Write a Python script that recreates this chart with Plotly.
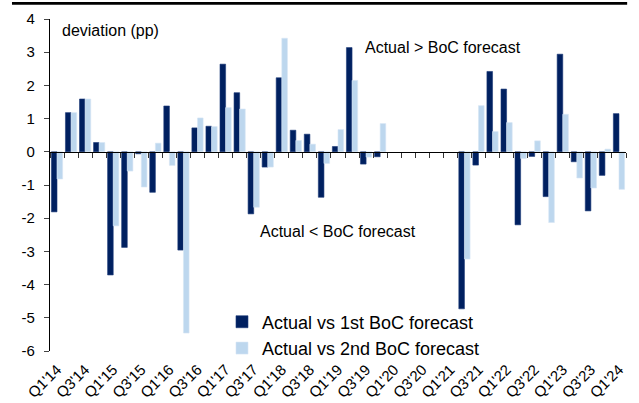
import plotly.graph_objects as go

quarters = ["Q1'14", "Q2'14", "Q3'14", "Q4'14", "Q1'15", "Q2'15", "Q3'15", "Q4'15",
            "Q1'16", "Q2'16", "Q3'16", "Q4'16", "Q1'17", "Q2'17", "Q3'17", "Q4'17",
            "Q1'18", "Q2'18", "Q3'18", "Q4'18", "Q1'19", "Q2'19", "Q3'19", "Q4'19",
            "Q1'20", "Q2'20", "Q3'20", "Q4'20", "Q1'21", "Q2'21", "Q3'21", "Q4'21",
            "Q1'22", "Q2'22", "Q3'22", "Q4'22", "Q1'23", "Q2'23", "Q3'23", "Q4'23",
            "Q1'24"]

vs_1st = [-1.81, 1.18, 1.59, 0.28, -3.71, -2.88, -0.06, -1.22,
          1.38, -2.96, 0.72, 0.77, 2.64, 1.78, -1.87, -0.46,
          2.23, 0.65, 0.53, -1.37, 0.16, 3.14, -0.37, -0.15,
          None, None, None, None, None, -4.73, -0.40, 2.42,
          1.89, -2.20, -0.14, -1.35, 2.94, -0.30, -1.78, -0.71,
          1.15]

vs_2nd = [-0.82, 1.18, 1.59, 0.28, -2.23, -0.58, -1.06, 0.26,
          -0.41, -5.46, 1.02, 0.76, 1.33, 1.29, -1.67, -0.46,
          3.42, 0.34, 0.23, -0.35, 0.67, 2.15, -0.16, 0.85,
          None, None, None, None, None, -3.23, 1.39, 0.61,
          0.88, -0.20, 0.33, -2.13, 1.13, -0.79, -1.09, 0.08,
          -1.13]

tick_labels = quarters[::2]
y_ticks = [-6, -5, -4, -3, -2, -1, 0, 1, 2, 3, 4]
y_tick_text = ["-6", "-5", "-4", "-3", "-2", "-1", "0", "1", "2", "3", "4"]

DARK = "#002060"
LIGHT = "#BDD7EE"
FONT = "Liberation Sans, Arial, sans-serif"

fig = go.Figure()
fig.add_trace(go.Bar(x=quarters, y=vs_1st, name="Actual vs 1st BoC forecast",
                     marker=dict(color=DARK, line=dict(color="#1c3a78", width=0.6))))
fig.add_trace(go.Bar(x=quarters, y=vs_2nd, name="Actual vs 2nd BoC forecast",
                     marker=dict(color=LIGHT, line=dict(color="#d6e6f5", width=0.6))))

n = len(quarters)
fig.update_layout(
    width=639, height=403,
    margin=dict(l=50, r=13, t=19, b=52),
    paper_bgcolor="white", plot_bgcolor="white",
    barmode="group", bargap=0.2, bargroupgap=0,
    font=dict(family=FONT, size=15, color="black"),
    showlegend=True,
    legend=dict(x=0.2986, xanchor="left", y=0.143, yanchor="top",
                bgcolor="rgba(0,0,0,0)", font=dict(size=18), tracegroupgap=0),
    xaxis=dict(type="category", tickmode="array", tickvals=tick_labels,
               ticktext=tick_labels, tickangle=-45, showline=False,
               ticks="", showgrid=False, zeroline=False, automargin=False,
               ticklabelstandoff=6, tickfont=dict(size=15)),
    xaxis2=dict(overlaying="x", anchor="free", position=0.6,
                range=[-0.5, n - 0.5], tickmode="array",
                tickvals=[i - 0.5 for i in range(n + 1)],
                ticks="outside", ticklen=5, tickcolor="#333333",
                showticklabels=False, showline=True, linecolor="black",
                linewidth=1.3, showgrid=False, zeroline=False, automargin=False),
    yaxis=dict(range=[-6, 4], tickmode="array", tickvals=y_ticks,
               ticktext=y_tick_text, ticks="outside", ticklen=5,
               showline=True, linecolor="black", linewidth=1.3,
               showgrid=False, zeroline=False, automargin=False,
               ticklabelstandoff=6, tickfont=dict(size=15)),
    annotations=[
        dict(text="deviation (pp)", xref="paper", yref="y", x=0.017, y=3.66,
             xanchor="left", yanchor="middle", showarrow=False,
             font=dict(size=16)),
        dict(text="Actual > BoC forecast", xref="paper", yref="y", x=0.543,
             y=3.14, xanchor="left", yanchor="middle", showarrow=False,
             font=dict(size=16)),
        dict(text="Actual < BoC forecast", xref="paper", yref="y", x=0.361,
             y=-2.41, xanchor="left", yanchor="middle", showarrow=False,
             font=dict(size=16)),
    ],
    shapes=[dict(type="rect", xref="paper", yref="paper", layer="above",
                 x0=-0.066, x1=1.002, y0=1.043, y1=1.051,
                 fillcolor="black", line=dict(width=0))],
)
# invisible trace to activate xaxis2
fig.add_trace(go.Scatter(x=[0], y=[0], xaxis="x2", mode="markers",
                         marker=dict(opacity=0), showlegend=False,
                         hoverinfo="skip"))

fig.write_html("out.html", config={"displayModeBar": False},
               post_script="document.body.style.margin='0';document.body.style.padding='0';window.dispatchEvent(new Event('resize'));")
